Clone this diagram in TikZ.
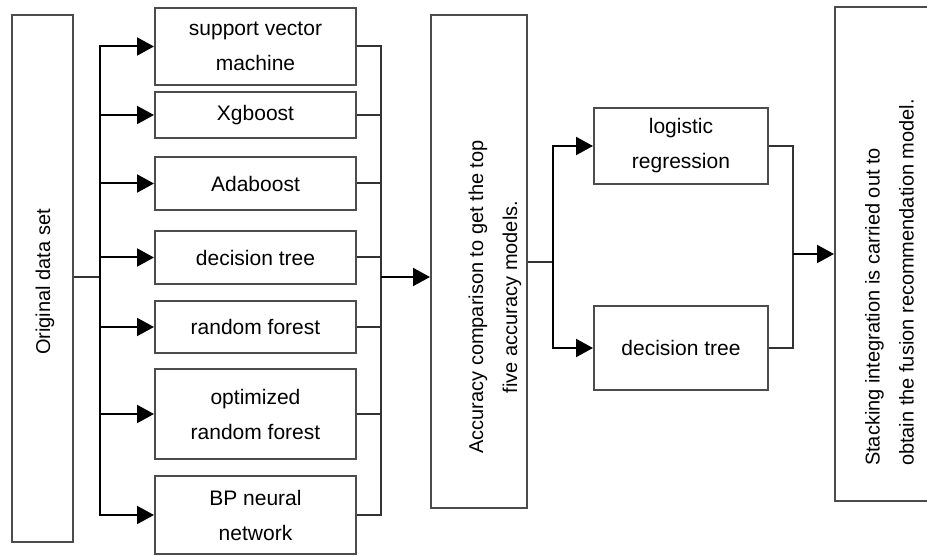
\documentclass[tikz,border=0pt]{standalone}
\usepackage{fontspec}
\setmainfont{Liberation Sans}
\usetikzlibrary{arrows.meta,positioning}

\begin{document}
\begin{tikzpicture}[x=1pt,y=-1pt,->,>={Triangle[length=17pt,width=18pt,color=black]},
                    line width=2pt,font=\fontsize{20}{34}\selectfont]
  \tikzstyle{model}=[rectangle,draw=black!70,minimum width=201pt,align=center,inner sep=2pt,
                     font=\fontsize{21}{35}\selectfont]
  \tikzstyle{stage}=[model,minimum width=174pt]
  \tikzstyle{tall}=[rectangle,draw=black!70]
  \tikzstyle{vtext}=[rotate=90,align=center,inner sep=0pt]
  \tikzstyle{bus}=[-,black!80]

  \clip (0,0) rectangle (927,556);

  % input
  \node[tall,minimum width=61pt,minimum height=527pt] (data) at (42.5,278.5) {};
  \node[vtext] (datatxt) at (45,282) {Original data set};

  % base models
  \node[model,minimum height=77pt] (svm) at (255.5,46.5)      {support vector\\machine};
  \node[model,minimum height=46pt] (xg)  [below=5pt of svm]  {Xgboost};
  \node[model,minimum height=53pt] (ada) [below=17pt of xg]  {Adaboost};
  \node[model,minimum height=53pt] (dt)  [below=19pt of ada] {decision tree};
  \node[model,minimum height=52pt] (rf)  [below=15pt of dt]  {random forest};
  \node[model,minimum height=90pt] (orf) [below=14pt of rf]  {optimized\\random forest};
  \node[model,minimum height=78pt] (bp)  [below=15pt of orf] {BP neural\\network};

  % comparison
  \node[tall,minimum width=96pt,minimum height=493pt] (acc) at (479,261.5) {};
  \node[vtext] (acctxt) at (495,297) {Accuracy comparison to get the top\\five accuracy models.};

  % selected models
  \node[stage,minimum height=76pt] (lr)  at (681,146) {logistic\\regression};
  \node[stage,minimum height=84pt] (dt2) at (681,348) {decision tree};

  % fusion
  \node[tall,minimum width=110pt,minimum height=494pt] (final) at (890,254) {};
  \node[vtext,align=left] (finaltxt) at (889.5,282.5) {Stacking integration is carried out to\\obtain the fusion recommendation model.};

  \coordinate (split1) at (100,277);
  \coordinate (join1)  at (381,277);
  \coordinate (split2) at (553,262);
  \coordinate (join2)  at (793,254);

  \draw[bus] (data.east |- split1) -- (split1);
  \draw (split1) |- (svm.west);
  \draw (split1) |- (xg.west);
  \draw (split1) |- (ada.west);
  \draw (split1) |- (dt.west);
  \draw (split1) |- (rf.west);
  \draw (split1) |- (orf.west);
  \draw (split1) |- (bp.west);

  \draw[bus] (svm.east) -| (join1);
  \draw[bus] (xg.east)  -| (join1);
  \draw[bus] (ada.east) -| (join1);
  \draw[bus] (dt.east)  -| (join1);
  \draw[bus] (rf.east)  -| (join1);
  \draw[bus] (orf.east) -| (join1);
  \draw[bus] (bp.east)  -| (join1);
  \draw (join1) -- (acc.west |- join1);

  \draw[bus] (acc.east |- split2) -- (split2);
  \draw (split2) |- (lr.west);
  \draw (split2) |- (dt2.west);
  \draw[bus] (lr.east)  -| (join2);
  \draw[bus] (dt2.east) -| (join2);
  \draw (join2) -- (final.west |- join2);
\end{tikzpicture}
\end{document}
